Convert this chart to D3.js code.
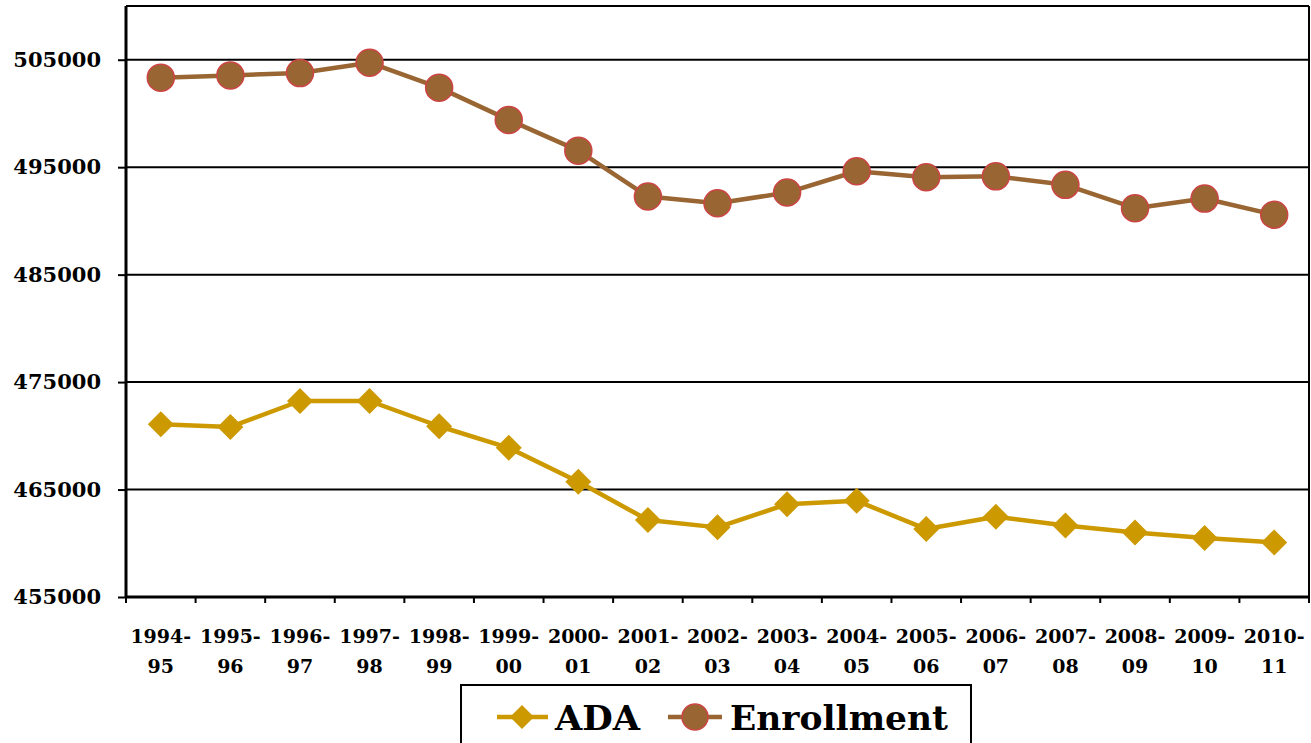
<!DOCTYPE html>
<html><head><meta charset="utf-8">
<script src="https://cdn.jsdelivr.net/npm/d3@7"></script>
<style>
html,body{margin:0;padding:0;background:#fff;overflow:hidden;}
svg{display:block;}
text{font-family:"DejaVu Serif",serif;font-weight:bold;fill:#000;}
</style></head><body>
<svg id="c" width="1311" height="743"></svg>
<script>
const categories = ["1994-95","1995-96","1996-97","1997-98","1998-99","1999-00","2000-01","2001-02","2002-03","2003-04","2004-05","2005-06","2006-07","2007-08","2008-09","2009-10","2010-11"];
const adaValues = [471080,470830,473240,473240,470890,468880,465720,462160,461480,463640,463950,461320,462460,461660,461010,460480,460080];
const enrollmentValues = [503330,503540,503760,504720,502400,499400,496540,492270,491640,492640,494620,494060,494150,493360,491180,492080,490570];
const yTicks = [455000,465000,475000,485000,495000,505000];
const yDomain = [455000,510000];
const seriesNames = ["ADA","Enrollment"];

const svg = d3.select("#c");
const m = {left:126, right:1309, top:6, bottom:597};
const x = d3.scaleBand().domain(categories).range([m.left,m.right]).padding(0);
const y = d3.scaleLinear().domain(yDomain).range([m.bottom,m.top]);
const cx = d => x(d) + x.bandwidth()/2;

// gridlines
svg.append("g").selectAll("line").data(yTicks.slice(1)).join("line")
  .attr("x1",m.left).attr("x2",m.right).attr("y1",d=>y(d)).attr("y2",d=>y(d))
  .attr("stroke","#000").attr("stroke-width",2);
// frame top/right
svg.append("line").attr("x1",m.left).attr("x2",m.right).attr("y1",m.top).attr("y2",m.top).attr("stroke","#000").attr("stroke-width",2);
svg.append("line").attr("x1",m.right).attr("x2",m.right).attr("y1",m.top).attr("y2",m.bottom).attr("stroke","#000").attr("stroke-width",2);

// y axis
const ya = svg.append("g").attr("transform",`translate(${m.left},0)`)
  .call(d3.axisLeft(y).tickValues(yTicks).tickSize(8).tickPadding(17).tickFormat(d3.format("d")));
ya.select(".domain").attr("stroke","#000").attr("stroke-width",3).attr("d",`M0,${m.top}V${m.bottom}`);
ya.selectAll(".tick line").attr("stroke","#000").attr("stroke-width",2);
ya.selectAll(".tick text").style("font-size","21px").style("font-family","'DejaVu Serif',serif").style("font-weight","bold").attr("fill","#000");

// x axis
const xa = svg.append("g").attr("transform",`translate(0,${m.bottom})`)
  .call(d3.axisBottom(x).tickSize(0).tickFormat(""));
xa.select(".domain").attr("stroke","#000").attr("stroke-width",3).attr("d",`M${m.left},0H${m.right}`);
xa.selectAll(".tick").remove();
const bounds = categories.map(c=>x(c)).concat([m.right]);
svg.append("g").selectAll("line").data(bounds).join("line")
  .attr("x1",d=>d).attr("x2",d=>d).attr("y1",m.bottom).attr("y2",m.bottom+6)
  .attr("stroke","#000").attr("stroke-width",2);
const xl = svg.append("g").selectAll("text").data(categories).join("text")
  .attr("x",d=>cx(d)).attr("text-anchor","middle").style("font-size","19px");
xl.append("tspan").attr("x",d=>cx(d)).attr("y",643).text(d=>d.split("-")[0]+"-");
xl.append("tspan").attr("x",d=>cx(d)).attr("y",673).text(d=>d.split("-")[1]);

// lines
const adaColor = "#CC9900", enrColor = "#996633", enrStroke = "#CC4444";
const line = d3.line().x((d,i)=>cx(categories[i])).y(d=>y(d));
svg.append("path").datum(adaValues).attr("d",line).attr("fill","none").attr("stroke",adaColor).attr("stroke-width",4.5).attr("stroke-linejoin","round");
svg.append("path").datum(enrollmentValues).attr("d",line).attr("fill","none").attr("stroke",enrColor).attr("stroke-width",4.5).attr("stroke-linejoin","round");

const diamond = (s)=>`M0,${-s}L${s},0L0,${s}L${-s},0Z`;
svg.append("g").selectAll("path").data(adaValues).join("path")
  .attr("transform",(d,i)=>`translate(${cx(categories[i])},${y(d)})`)
  .attr("d",diamond(13)).attr("fill",adaColor);
svg.append("g").selectAll("circle").data(enrollmentValues).join("circle")
  .attr("cx",(d,i)=>cx(categories[i])).attr("cy",d=>y(d)).attr("r",13.5)
  .attr("fill",enrColor).attr("stroke",enrStroke).attr("stroke-width",1.5);

// legend
const lg = svg.append("g");
lg.append("rect").attr("x",461).attr("y",685).attr("width",510).attr("height",70)
  .attr("fill","#fff").attr("stroke","#000").attr("stroke-width",2);
lg.append("line").attr("x1",497).attr("x2",548).attr("y1",717).attr("y2",717).attr("stroke",adaColor).attr("stroke-width",4.5);
lg.append("path").attr("transform","translate(522,717)").attr("d",diamond(12)).attr("fill",adaColor);
lg.append("text").attr("x",555).attr("y",730).style("font-size","34px").attr("textLength",85).attr("lengthAdjust","spacingAndGlyphs").text(seriesNames[0]);
lg.append("line").attr("x1",668).attr("x2",722).attr("y1",717).attr("y2",717).attr("stroke",enrColor).attr("stroke-width",4.5);
lg.append("circle").attr("cx",695).attr("cy",717).attr("r",13).attr("fill",enrColor).attr("stroke",enrStroke).attr("stroke-width",1.5);
lg.append("text").attr("x",730).attr("y",730).style("font-size","34px").attr("textLength",218).attr("lengthAdjust","spacingAndGlyphs").text(seriesNames[1]);
</script>
</body></html>
